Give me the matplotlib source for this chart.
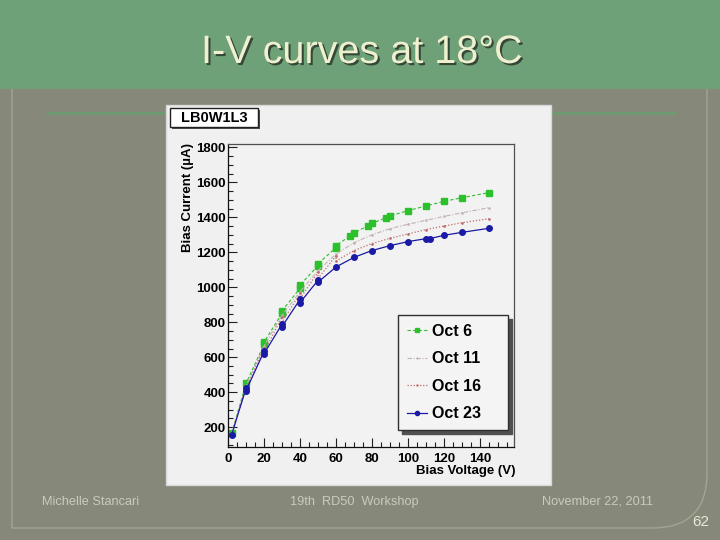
import matplotlib
matplotlib.use("Agg")
import matplotlib.pyplot as plt
from matplotlib.patches import Rectangle, PathPatch
from matplotlib.path import Path
from matplotlib.ticker import MultipleLocator
import matplotlib.patheffects as pe

# ---------------- data ----------------
v_oct6 = [2, 10, 20, 20, 30, 30, 40, 40, 50, 50, 60, 60, 68, 70, 78, 80, 88, 90, 100, 110, 120, 130, 145]
i_oct6 = [165, 450, 674, 686, 851, 865, 994, 1012, 1124, 1134, 1227, 1238, 1295, 1312, 1352, 1366, 1398, 1408, 1438, 1465, 1491, 1512, 1541]

v_oct11 = [2, 10, 20, 30, 40, 50, 60, 70, 80, 90, 100, 110, 120, 130, 145]
i_oct11 = [162, 435, 665, 840, 975, 1095, 1190, 1255, 1300, 1335, 1360, 1383, 1405, 1426, 1455]

v_oct16 = [2, 10, 20, 20, 30, 30, 40, 40, 50, 50, 60, 60, 70, 80, 90, 100, 110, 120, 130, 145]
i_oct16 = [158, 420, 655, 630, 830, 800, 965, 935, 1085, 1050, 1180, 1150, 1210, 1250, 1280, 1305, 1330, 1350, 1369, 1392]

v_oct23 = [2, 10, 10, 20, 20, 30, 30, 40, 40, 50, 50, 60, 70, 80, 90, 100, 110, 112, 120, 130, 145]
i_oct23 = [156, 423, 409, 633, 620, 789, 775, 931, 912, 1040, 1029, 1116, 1171, 1210, 1238, 1261, 1278, 1278, 1297, 1314, 1337]

series_labels = ["Oct 6", "Oct 11", "Oct 16", "Oct 23"]
plot_title = "LB0W1L3"
slide_title = "I-V curves at 18°C"
footer = ["Michelle Stancari", "19th  RD50  Workshop", "November 22, 2011"]
page_no = "62"

W, H = 720, 540
fig = plt.figure(figsize=(W / 100, H / 100), dpi=100)
fig.patch.set_facecolor("#86887a")

# ---------------- slide background ----------------
bg = fig.add_axes([0, 0, 1, 1], zorder=-1)
bg.set_xlim(0, W)
bg.set_ylim(H, 0)
bg.axis("off")
bg.add_patch(Rectangle((0, 0), W, 89, facecolor="#6fa179", edgecolor="none", zorder=1))
# rounded border
verts = [(12, 89), (12, 528), (652, 528), (707, 528), (707, 473), (707, 89)]
codes = [Path.MOVETO, Path.LINETO, Path.LINETO, Path.CURVE3, Path.CURVE3, Path.LINETO]
bg.add_patch(PathPatch(Path(verts, codes), facecolor="none", edgecolor="#a3a593", lw=1, zorder=1))
bg.plot([46, 675], [113, 113], color="#6e9c72", lw=2, solid_capstyle="butt", zorder=1)
# ROOT canvas
bg.add_patch(Rectangle((166, 105), 385, 380, facecolor="#f0f0f0", edgecolor="#d8d8d8", lw=1, zorder=3))
# title box with shadow
bg.add_patch(Rectangle((172, 110), 88, 19, facecolor="#505050", edgecolor="none", zorder=4))
bg.add_patch(Rectangle((170, 108), 88, 19, facecolor="white", edgecolor="#202020", lw=1, zorder=5))
bg.text(214, 118, plot_title, ha="center", va="center", fontsize=10.5,
        fontweight="bold", family="Liberation Sans", color="black", zorder=6)

# slide title
fig.text(362 / W, 1 - 52 / H, slide_title, ha="center", va="center",
         fontsize=28.5, family="Liberation Sans", color="#eef0cf",
         path_effects=[pe.withSimplePatchShadow(offset=(1.5, -1.5), shadow_rgbFace="#2f3f30", alpha=0.9)])

# footer
fcol = "#c9cbbb"
fig.text(42 / W, 1 - 502 / H, footer[0], ha="left", va="center", fontsize=9.2,
         family="Liberation Sans", color=fcol)
fig.text(354 / W, 1 - 502 / H, footer[1], ha="center", va="center", fontsize=9.2,
         family="Liberation Sans", color=fcol)
fig.text(598 / W, 1 - 502 / H, footer[2], ha="center", va="center", fontsize=9.2,
         family="Liberation Sans", color=fcol)
fig.text(701 / W, 1 - 522 / H, page_no, ha="center", va="center", fontsize=11,
         family="Liberation Sans", color="#e8ead8")

# ---------------- main plot ----------------
left, right, top, bottom = 228, 514, 144, 447
ax = fig.add_axes([left / W, 1 - bottom / H, (right - left) / W, (bottom - top) / H], zorder=1)
ax.set_facecolor("#f2f2f2")
ax.set_xlim(0, 158.9)
ax.set_ylim(87, 1819)

ax.plot(v_oct6, i_oct6, color="#2cc02c", ls=(0, (3, 2)), lw=0.8, marker="s", ms=4,
        mfc="#2cc02c", mec="#2cc02c", label=series_labels[0])
ax.plot(v_oct11, i_oct11, color="#c4b2b2", ls=(0, (4, 1.5, 1, 1.5)), lw=0.8, marker=".", ms=1.8,
        label=series_labels[1])
ax.plot(v_oct16, i_oct16, color="#bf6a6a", ls=(0, (1, 1.5)), lw=0.9, marker=".", ms=1.8,
        label=series_labels[2])
ax.plot(v_oct23, i_oct23, color="#1a1aa5", ls="-", lw=0.9, marker="o", ms=4,
        mfc="#1a1aa5", mec="#1a1aa5", label=series_labels[3])

ax.xaxis.set_major_locator(MultipleLocator(20))
ax.xaxis.set_minor_locator(MultipleLocator(5))
ax.yaxis.set_major_locator(MultipleLocator(200))
ax.yaxis.set_minor_locator(MultipleLocator(50))
ax.tick_params(which="both", direction="in", top=False, right=False, color="#202020")
ax.tick_params(which="major", length=6.5, width=0.8)
ax.tick_params(which="minor", length=3.3, width=0.8)
ax.tick_params(axis="x", pad=4)
ax.tick_params(axis="y", pad=1.5)
ax.set_xticklabels([f"{int(t)}" for t in ax.get_xticks()])
ax.set_yticklabels([f"{int(t)}" for t in ax.get_yticks()])
for lab in ax.get_xticklabels() + ax.get_yticklabels():
    lab.set_fontweight("bold")
    lab.set_fontsize(9.5)
    lab.set_family("Liberation Sans")
for s in ["left", "bottom"]:
    ax.spines[s].set_color("#101010")
    ax.spines[s].set_linewidth(0.9)
for s in ["top", "right"]:
    ax.spines[s].set_color("#505050")
    ax.spines[s].set_linewidth(0.9)

fig.text(188 / W, 1 - 143 / H, "Bias Current (\u00b5A)", rotation=90, ha="center", va="top",
         fontsize=9.5, fontweight="bold", family="Liberation Sans")
fig.text(515 / W, 1 - 471 / H, "Bias Voltage (V)", ha="right", va="center",
         fontsize=9.5, fontweight="bold", family="Liberation Sans")

leg = ax.legend(bbox_to_anchor=(398 / W, 1 - 429 / H, 110 / W, 114 / H),
                bbox_transform=fig.transFigure, loc="upper left", mode="expand",
                frameon=True, fancybox=False,
                shadow={"ox": 3, "oy": -3, "color": "#505050", "alpha": 1},
                edgecolor="#303030", facecolor="#f4f4f4", framealpha=1,
                prop={"family": "Liberation Sans", "weight": "bold", "size": 11.5},
                labelspacing=0.78, handlelength=1.25, handletextpad=0.35,
                borderpad=0.55, borderaxespad=0, numpoints=1, markerscale=0.75)
leg.get_frame().set_linewidth(1.0)

fig.savefig("out.png", dpi=100)
